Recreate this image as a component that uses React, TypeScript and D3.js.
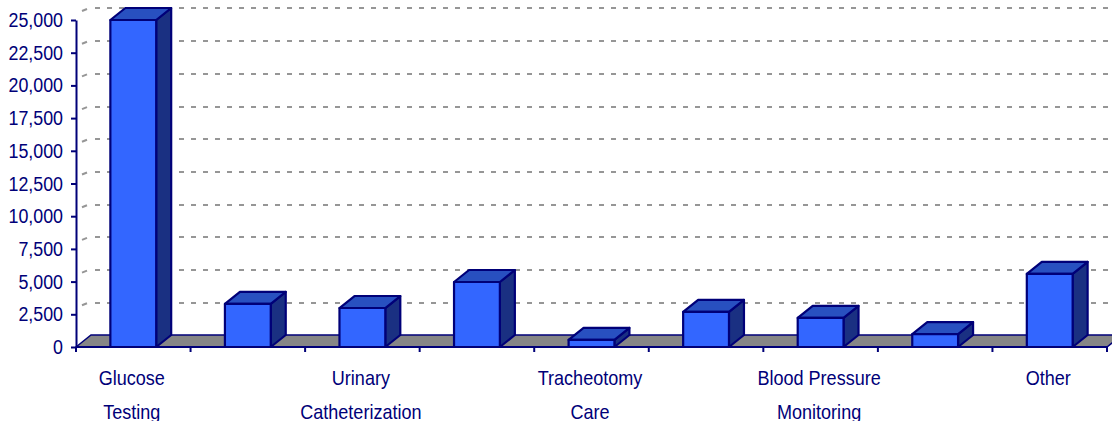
import { useRef, useEffect } from "react";
import * as d3 from "d3";

const W = 1112;
const H = 421;
const PAD = { top: 20, right: 5, bottom: 74, left: 76 };
const DX = 15;
const DY = 12;
const NAVY = "#000078";
const FONT_PX = 20.5;
const SX_TICK = 0.87;
const SX_CAT = 0.88;

const categories = [
  ["Glucose", "Testing"],
  [],
  ["Urinary", "Catheterization"],
  [],
  ["Tracheotomy", "Care"],
  [],
  ["Blood Pressure", "Monitoring"],
  [],
  ["Other"],
];
const values = [25000, 3290, 2980, 4970, 540, 2680, 2220, 990, 5590];
const yTicks = [0, 2500, 5000, 7500, 10000, 12500, 15000, 17500, 20000, 22500, 25000];

export default function App() {
  const svgRef = useRef<SVGSVGElement>(null);

  useEffect(() => {
    const svg = d3.select(svgRef.current);
    if (!svg.node()) return;
    svg.selectAll("*").remove();

    const idx = categories.map((_c, i) => i);
    const xScale = d3
      .scaleBand<number>()
      .domain(idx)
      .range([PAD.left, W - PAD.right])
      .paddingInner(0.6)
      .paddingOuter(0.3);
    const step = xScale.step();
    const bandLeft = (i: number) => PAD.left + i * step;
    const yScale = d3
      .scaleLinear()
      .domain([0, 25000])
      .range([H - PAD.bottom, PAD.top]);
    const y0 = yScale(0);

    // back wall gridlines
    const grid = svg.append("g");
    grid
      .selectAll("line.grid")
      .data(yTicks.slice(1))
      .enter()
      .append("line")
      .attr("class", "grid")
      .attr("x1", PAD.left + DX + 2)
      .attr("x2", W)
      .attr("y1", (d) => Math.ceil(yScale(d) - DY))
      .attr("y2", (d) => Math.ceil(yScale(d) - DY))
      .attr("stroke", "#969696")
      .attr("stroke-width", 2)
      .attr("stroke-dasharray", "5 7")
      .attr("stroke-dashoffset", 10);
    grid
      .selectAll("line.stub")
      .data(yTicks.slice(1))
      .enter()
      .append("line")
      .attr("class", "stub")
      .attr("x1", PAD.left + 6)
      .attr("x2", PAD.left + 11)
      .attr("y1", (d) => yScale(d) - 9)
      .attr("y2", (d) => yScale(d) - 11)
      .attr("stroke", "#969696")
      .attr("stroke-width", 2);

    // floor
    const floorRight = W - PAD.right;
    svg
      .append("path")
      .attr(
        "d",
        d3.line()([
          [PAD.left, y0],
          [PAD.left + DX, y0 - DY],
          [floorRight + DX, y0 - DY],
          [floorRight, y0],
        ]) + "Z",
      )
      .attr("fill", "#868686")
      .attr("stroke", NAVY)
      .attr("stroke-width", 1.5);

    // bars
    const bars = svg
      .selectAll("g.bar")
      .data(values)
      .enter()
      .append("g")
      .attr("class", "bar")
      .attr("stroke", NAVY)
      .attr("stroke-width", 2.2)
      .attr("stroke-linejoin", "round");

    const bw = xScale.bandwidth();
    const line = d3.line();
    bars
      .append("path")
      .attr("fill", "#1A3082")
      .attr("d", (_d, i) => {
        const r = xScale(i)! + bw;
        return (
          line([
            [r, y0],
            [r + DX, y0 - DY],
            [r + DX, yScale(values[i]) - DY],
            [r, yScale(values[i])],
          ]) + "Z"
        );
      });
    bars
      .append("path")
      .attr("fill", "#2850C0")
      .attr("d", (d, i) => {
        const l = xScale(i)!;
        const t = yScale(d);
        return (
          line([
            [l, t],
            [l + DX, t - DY],
            [l + bw + DX, t - DY],
            [l + bw, t],
          ]) + "Z"
        );
      });
    bars
      .append("rect")
      .attr("x", (_d, i) => xScale(i)!)
      .attr("y", (d) => yScale(d))
      .attr("width", bw)
      .attr("height", (d) => y0 - yScale(d))
      .attr("fill", "#3366FF");

    // y axis
    const yAxis = svg
      .append("g")
      .attr("transform", `translate(${PAD.left},0)`)
      .call(
        d3
          .axisLeft(yScale)
          .tickValues(yTicks)
          .tickSize(5)
          .tickPadding(8)
          .tickSizeOuter(0)
          .tickFormat((d) => d3.format(",")(d as number)),
      );
    yAxis
      .selectAll("text")
      .attr("x", -13 / SX_TICK)
      .attr("transform", `scale(${SX_TICK},1)`)
      .style("fill", NAVY)
      .style("font-size", `${FONT_PX}px`)
      .style("font-family", "'Liberation Sans', Arial, sans-serif");
    yAxis.selectAll("line, path").style("stroke", NAVY).style("stroke-width", 2);

    // x axis baseline and ticks between the categories
    const xg = svg.append("g");
    xg.append("line")
      .attr("x1", PAD.left)
      .attr("x2", floorRight)
      .attr("y1", y0)
      .attr("y2", y0)
      .attr("stroke", NAVY)
      .attr("stroke-width", 2);
    xg.selectAll("line.tick")
      .data(d3.range(categories.length + 1))
      .enter()
      .append("line")
      .attr("class", "tick")
      .attr("x1", (i) => bandLeft(i))
      .attr("x2", (i) => bandLeft(i))
      .attr("y1", y0)
      .attr("y2", y0 + 5)
      .attr("stroke", NAVY)
      .attr("stroke-width", 2);

    const labels = svg
      .selectAll("text.cat")
      .data(categories)
      .enter()
      .append("text")
      .attr("class", "cat")
      .attr("text-anchor", "middle")
      .attr("transform", `scale(${SX_CAT},1)`)
      .style("fill", NAVY)
      .style("font-size", `${FONT_PX}px`)
      .style("font-family", "'Liberation Sans', Arial, sans-serif");
    labels
      .selectAll("tspan")
      .data((d, i) => d.map((t) => ({ t, i })))
      .enter()
      .append("tspan")
      .attr("x", (d) => (bandLeft(d.i) + step / 2 - 1.5) / SX_CAT)
      .attr("y", (_d, j) => 385 + j * 34)
      .text((d) => d.t);
  }, []);

  return (
    <svg
      ref={svgRef}
      width={W}
      height={H}
      style={{ position: "absolute", left: 0, top: 0, background: "#fff" }}
    />
  );
}
